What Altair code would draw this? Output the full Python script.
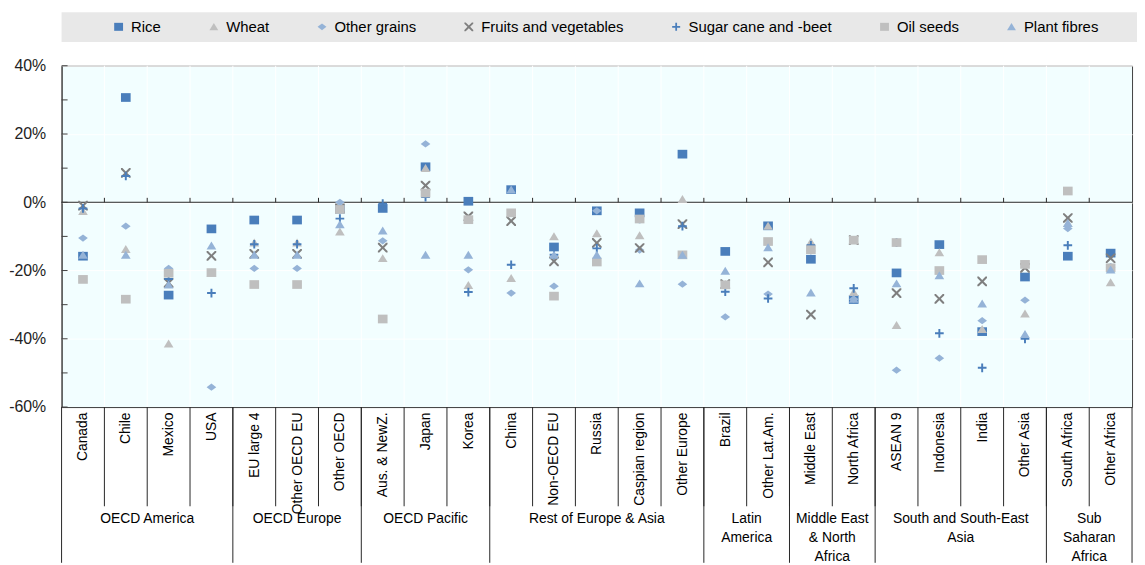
import json
import altair as alt
import pandas as pd

# ---------------- data ----------------
categories = ["Canada", "Chile", "Mexico", "USA", "EU large 4", "Other OECD EU", "Other OECD",
              "Aus. & NewZ.", "Japan", "Korea", "China", "Non-OECD EU", "Russia", "Caspian region",
              "Other Europe", "Brazil", "Other Lat.Am.", "Middle East", "North Africa", "ASEAN 9",
              "Indonesia", "India", "Other Asia", "South Africa", "Other Africa"]
groups = ["OECD America", "OECD Europe", "OECD Pacific", "Rest of Europe & Asia", "Latin\nAmerica",
          "Middle East\n& North\nAfrica", "South and South-East\nAsia", "Sub\nSaharan\nAfrica"]
group_sizes = [4, 3, 3, 5, 2, 2, 4, 2]
series = ["Rice", "Wheat", "Other grains", "Fruits and vegetables", "Sugar cane and -beet",
          "Oil seeds", "Plant fibres"]

rice = [-15.8, 30.7, -27.2, -7.8, -5.2, -5.2, -2.0, -1.8, 10.4, 0.3, 3.7, -13.1, -2.5, -3.1, 14.1,
        -14.4, -6.9, -16.7, -28.5, -20.7, -12.4, -37.9, -21.9, -15.8, -14.9]
wheat = [-2.6, -13.7, -41.4, -20.6, -11.8, -11.8, -8.6, -16.4, 10.0, -24.3, -22.2, -10.0, -9.1, -9.7,
         0.9, -24.0, -6.9, -11.6, -26.3, -36.0, -14.7, -37.2, -32.6, -6.1, -23.5]
other_grains = [-10.5, -7.0, -19.4, -54.2, -19.4, -19.4, 0.0, -11.3, 17.1, -19.8, -26.6, -24.6, -2.5,
                -14.0, -24.0, -33.6, -26.9, -14.3, -28.4, -49.2, -45.7, -34.7, -28.7, -7.7, -19.2]
fruits_veg = [-1.0, 8.6, -23.6, -15.7, -15.1, -15.1, -1.8, -13.3, 4.9, -4.1, -5.5, -17.3, -11.9,
              -13.4, -6.4, -24.0, -17.6, -32.9, -11.1, -26.6, -28.3, -23.2, -19.2, -4.6, -16.4]
sugar = [-1.8, 7.7, -22.5, -26.6, -12.3, -12.3, -4.8, -0.4, 1.5, -26.3, -18.3, -15.4, -13.5, -4.9,
         -7.0, -26.2, -28.2, -12.6, -25.2, -11.8, -38.4, -48.5, -40.0, -12.6, -19.2]
oil_seeds = [-22.6, -28.4, -20.8, -20.6, -24.1, -24.1, -2.1, -34.2, 2.7, -5.1, -3.1, -27.5, -17.5,
             -4.9, -15.4, -24.2, -11.5, -13.9, -11.1, -11.8, -20.0, -16.8, -18.2, 3.3, -19.2]
plant_fibres = [-15.4, -15.4, -24.1, -12.7, -15.4, -15.4, -6.5, -8.3, -15.4, -15.4, 3.7, -15.4, -15.4,
                -23.8, -15.4, -20.1, -13.2, -26.5, -28.3, -23.8, -21.4, -29.7, -38.6, -6.1, -19.7]
y_ticks = [-60, -50, -40, -30, -20, -10, 0, 10, 20, 30, 40]

# ---------------- styling ----------------
W, H = 1079, 344
FONT = "Liberation Sans"
colors = ["#4A7EBB", "#BFBFBF", "#95B3D7", "#7F7F7F", "#4A7EBB", "#BFBFBF", "#95B3D7"]
SQUARE = "M-1,-0.9L1,-0.9L1,0.9L-1,0.9Z"
TRI = "M-1,0.8L0,-0.85L1,0.8Z"
DIAM = "M-1,0L0,-0.75L1,0L0,0.75Z"
XSHAPE = ("M0,0.3L0.7,1L1,1L1,0.7L0.3,0L1,-0.7L1,-1L0.7,-1L0,-0.3L-0.7,-1L-1,-1L-1,-0.7"
          "L-0.3,0L-1,0.7L-1,1L-0.7,1Z")
PLUS = ("M-0.9,-0.2L-0.2,-0.2L-0.2,-0.9L0.2,-0.9L0.2,-0.2L0.9,-0.2L0.9,0.2L0.2,0.2L0.2,0.9"
        "L-0.2,0.9L-0.2,0.2L-0.9,0.2Z")
shapes = [SQUARE, TRI, DIAM, XSHAPE, PLUS, SQUARE, TRI]

# ---------------- tables ----------------
rows = []
for s, vals in zip(series, [rice, wheat, other_grains, fruits_veg, sugar, oil_seeds, plant_fibres]):
    for i, (c, v) in enumerate(zip(categories, vals)):
        rows.append({"series": s, "category": c, "x": i + 0.5, "value": v})
points_df = pd.DataFrame(rows)

n = len(categories)
inner_bounds = pd.DataFrame({"x": list(range(1, n))})
edges = [0]
for g in group_sizes:
    edges.append(edges[-1] + g)
group_edges_df = pd.DataFrame({"x": edges})
group_df = pd.DataFrame({"x": [(edges[i] + edges[i + 1]) / 2 for i in range(len(groups))],
                         "label": groups})
yt_df = pd.DataFrame({"value": y_ticks})

x_scale = alt.Scale(domain=[0, n], nice=False, zero=False)
y_scale = alt.Scale(domain=[-60, 40], nice=False, zero=False)
x_axis = alt.Axis(values=[i + 0.5 for i in range(n)],
                  labelExpr=json.dumps(categories) + "[floor(datum.value)]",
                  labelAngle=270, labelFontSize=14, labelFont=FONT, labelColor="#000000",
                  labelPadding=5, ticks=False, grid=False, domain=True, domainColor="#404040",
                  labelFlush=False, labelOverlap=False, title=None)
y_axis = alt.Axis(values=y_ticks, labelExpr="datum.value + '%'", labelFontSize=16, labelFont=FONT,
                  labelColor="#222222", ticks=False, labelPadding=16, grid=True, gridColor="#FFFFFF",
                  gridWidth=1, domain=True, domainColor="#404040", title=None,
                  minExtent=50, maxExtent=50)


def X(field):
    return alt.X(field, type="quantitative", scale=x_scale, axis=x_axis)


def Y(field):
    return alt.Y(field, type="quantitative", scale=y_scale, axis=y_axis)


legend = alt.Legend(orient="none", legendX=50, legendY=-47, direction="horizontal", title=None,
                    labelFontSize=15, labelFont=FONT, labelColor="#000000", symbolSize=80,
                    columnPadding=45, labelOffset=5, padding=0, zindex=1, symbolStrokeWidth=0)

box = alt.Chart(pd.DataFrame({"a": [0]})).mark_rect(color="#E8E8E8").encode(
    x=alt.value(0), x2=alt.value(W + 5), y=alt.value(-54), y2=alt.value(-24))

grid_v = alt.Chart(inner_bounds).mark_rule(color="#FFFFFF", strokeWidth=1).encode(x=X("x"))

zero_line = alt.Chart(pd.DataFrame({"a": [0]})).mark_rule(color="#262626", strokeWidth=1).encode(
    y=alt.datum(0))

zero_ticks = alt.Chart(inner_bounds).mark_rule(color="#262626", strokeWidth=1).encode(
    x=X("x"), y=alt.datum(0), y2=alt.datum(1.3))

y_inticks = alt.Chart(yt_df).mark_rule(color="#404040", strokeWidth=1).encode(
    y=Y("value"), x=alt.datum(0), x2=alt.datum(0.14))

pts = alt.Chart(points_df).mark_point(filled=True, size=95, opacity=1).encode(
    x=X("x"),
    y=Y("value"),
    color=alt.Color("series:N", scale=alt.Scale(domain=series, range=colors), legend=legend),
    shape=alt.Shape("series:N", scale=alt.Scale(domain=series, range=shapes), legend=legend),
)

seps = alt.Chart(inner_bounds).mark_rule(color="#262626", strokeWidth=1).encode(
    x=X("x"), y=alt.value(H), y2=alt.value(H + 100))

group_seps = alt.Chart(group_edges_df).mark_rule(color="#262626", strokeWidth=1).encode(
    x=X("x"), y=alt.value(H), y2=alt.value(H + 157))

group_labels = alt.Chart(group_df).mark_text(
    font=FONT, fontSize=14, color="#000000", baseline="top", align="center",
    lineBreak="\n", lineHeight=19).encode(
    x=X("x"), y=alt.value(H + 106), text="label:N")

chart = alt.layer(box, grid_v, zero_line, zero_ticks, y_inticks, pts, seps, group_seps,
                  group_labels).properties(
    width=W, height=H,
    padding={"left": 0, "top": 2, "right": 0, "bottom": 0},
).configure_view(fill="#F2FEFF", stroke="#404040", strokeWidth=1)

chart.save("out.html", embed_options={"renderer": "svg", "actions": False})
